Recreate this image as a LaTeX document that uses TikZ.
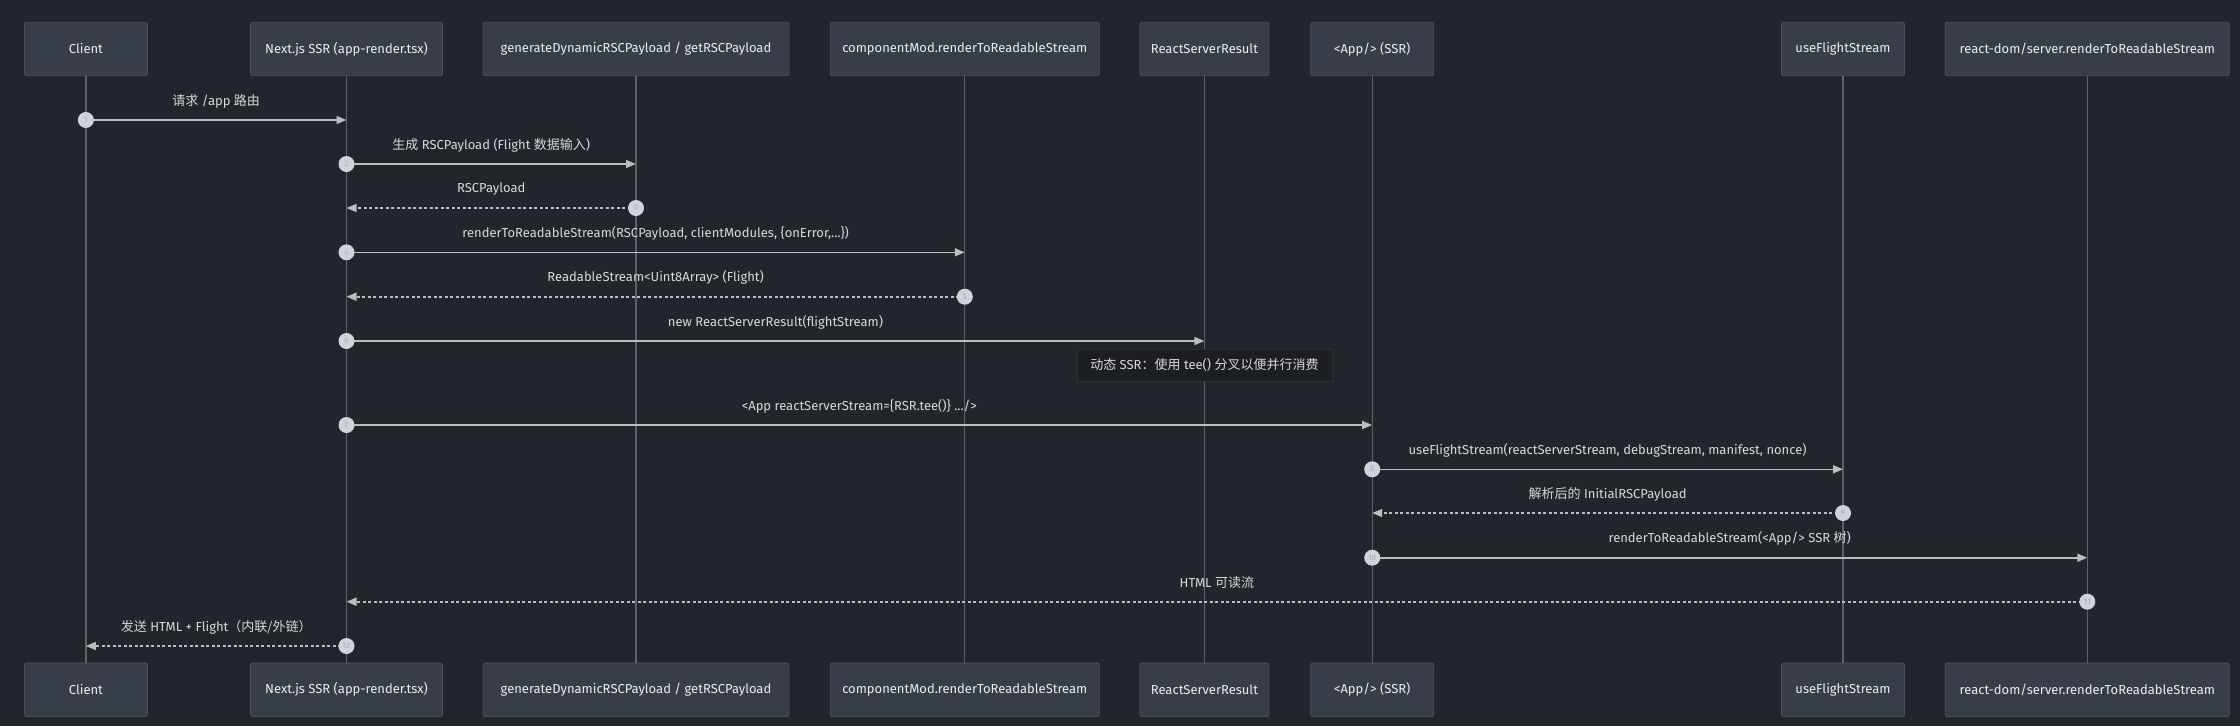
\documentclass[tikz,border=0pt]{standalone}
\usepackage{fontspec}
\setmainfont{Fira Sans}
\newfontfamily\cjk{Noto Sans CJK SC}
\usetikzlibrary{arrows.meta, positioning}

\definecolor{bgdark}{HTML}{22252B}
\definecolor{actorfill}{HTML}{383E48}
\definecolor{actorline}{HTML}{4B505A}
\definecolor{actortext}{HTML}{ECECEC}
\definecolor{lifegray}{HTML}{5D6169}
\definecolor{msggray}{HTML}{BDBDBD}
\definecolor{labeltext}{HTML}{D8D8D8}
\definecolor{dotfill}{HTML}{D2D3D8}
\definecolor{dottext}{HTML}{A3ACBD}
\definecolor{notefill}{HTML}{1C1E22}
\definecolor{noteline}{HTML}{2C2F35}

\tikzset{
  actor/.style={draw=actorline, fill=actorfill, rounded corners=2pt, line width=0.8pt,
    minimum height=53.4pt, text=actortext, font=\fontsize{13}{15}\selectfont},
  lifeline/.style={draw=lifegray, line width=1.2pt},
  msg/.style={draw=msggray, line width=1.6pt, -{Triangle[length=10pt, width=8pt]}},
  reply/.style={msg, dash pattern=on 3pt off 2.5pt},
  msglabel/.style={midway, yshift=19pt, text=labeltext, font=\fontsize{13}{15}\selectfont},
  numdot/.style={circle, solid, draw=none, fill=dotfill, minimum size=16pt, inner sep=0pt,
    text=dottext, font=\fontsize{8}{8}\selectfont},
  notebox/.style={draw=noteline, fill=notefill, line width=0.8pt, minimum width=255pt,
    minimum height=32pt, text=labeltext, font=\fontsize{13}{15}\selectfont}
}

\begin{document}
\begin{tikzpicture}[x=1pt, y=-1pt]
	\fill[bgdark] (0,0) rectangle (2240,726);
	\useasboundingbox (0,0) rectangle (2240,726);
	
	% participants (top)
	\node[actor, minimum width=123pt] (client) at (85.9,49) {Client};
	\node[actor, minimum width=192pt] (next) at (346.5,49) {Next.js SSR (app-render.tsx)};
	\node[actor, minimum width=306pt] (gen) at (636,49) {generateDynamicRSCPayload / getRSCPayload};
	\node[actor, minimum width=269pt] (comp) at (964.8,49) {componentMod.renderToReadableStream};
	\node[actor, minimum width=129pt] (rsr) at (1204.4,49) {ReactServerResult};
	\node[actor, minimum width=123pt] (app) at (1372.2,49) {<App/> (SSR)};
	\node[actor, minimum width=123pt] (flight) at (1843,49) {useFlightStream};
	\node[actor, minimum width=284pt] (rdom) at (2087.3,49) {react-dom/server.renderToReadableStream};
	
	% participants (bottom)
	\node[actor, minimum width=123pt] (clientB) [below=586.6pt of client] {Client};
	\node[actor, minimum width=192pt] (nextB) [below=586.6pt of next] {Next.js SSR (app-render.tsx)};
	\node[actor, minimum width=306pt] (genB) [below=586.6pt of gen] {generateDynamicRSCPayload / getRSCPayload};
	\node[actor, minimum width=269pt] (compB) [below=586.6pt of comp] {componentMod.renderToReadableStream};
	\node[actor, minimum width=129pt] (rsrB) [below=586.6pt of rsr] {ReactServerResult};
	\node[actor, minimum width=123pt] (appB) [below=586.6pt of app] {<App/> (SSR)};
	\node[actor, minimum width=123pt] (flightB) [below=586.6pt of flight] {useFlightStream};
	\node[actor, minimum width=284pt] (rdomB) [below=586.6pt of rdom] {react-dom/server.renderToReadableStream};
	
	% lifelines
	\foreach \p in {client, next, gen, comp, rsr, app, flight, rdom}
		\draw[lifeline] (\p) -- (\p B);
	
	% message rows
	\foreach \i/\y in {1/120, 2/164, 3/208, 4/252.3, 5/296.7, 6/341, 7/425, 8/469.3, 9/513, 10/557.7, 11/601.7, 12/646}
		\coordinate (m\i) at (0,\y);
	
	\draw[msg] (client |- m1) node[numdot] {1} -- node[msglabel] {{\cjk 请求} /app {\cjk 路由}} (next |- m1);
	\draw[msg] (next |- m2) node[numdot] {2} -- node[msglabel] {{\cjk 生成} RSCPayload (Flight {\cjk 数据输入})} (gen |- m2);
	\draw[reply] (gen |- m3) node[numdot] {3} -- node[msglabel] {RSCPayload} (next |- m3);
	\draw[msg] (next |- m4) node[numdot] {4} -- node[msglabel] {renderToReadableStream(RSCPayload, clientModules, \{onError,...\})} (comp |- m4);
	\draw[reply] (comp |- m5) node[numdot] {5} -- node[msglabel] {ReadableStream<Uint8Array> (Flight)} (next |- m5);
	\draw[msg] (next |- m6) node[numdot] {6} -- node[msglabel] {new ReactServerResult(flightStream)} (rsr |- m6);
	
	\node[notebox] (teenote) at (1204.4,365) {{\cjk 动态} SSR{\cjk ：使用} tee() {\cjk 分叉以便并行消费}};
	
	\draw[msg] (next |- m7) node[numdot] {7} -- node[msglabel] {<App reactServerStream=\{RSR.tee()\} .../>} (app |- m7);
	\draw[msg] (app |- m8) node[numdot] {8} -- node[msglabel] {useFlightStream(reactServerStream, debugStream, manifest, nonce)} (flight |- m8);
	\draw[reply] (flight |- m9) node[numdot] {9} -- node[msglabel] {{\cjk 解析后的} InitialRSCPayload} (app |- m9);
	\draw[msg] (app |- m10) node[numdot] {10} -- node[msglabel] {renderToReadableStream(<App/> SSR {\cjk 树})} (rdom |- m10);
	\draw[reply] (rdom |- m11) node[numdot] {11} -- node[msglabel] {HTML {\cjk 可读流}} (next |- m11);
	\draw[reply] (next |- m12) node[numdot] {12} -- node[msglabel] {{\cjk 发送} HTML + Flight{\cjk （内联/外链）}} (client |- m12);
\end{tikzpicture}
\end{document}
